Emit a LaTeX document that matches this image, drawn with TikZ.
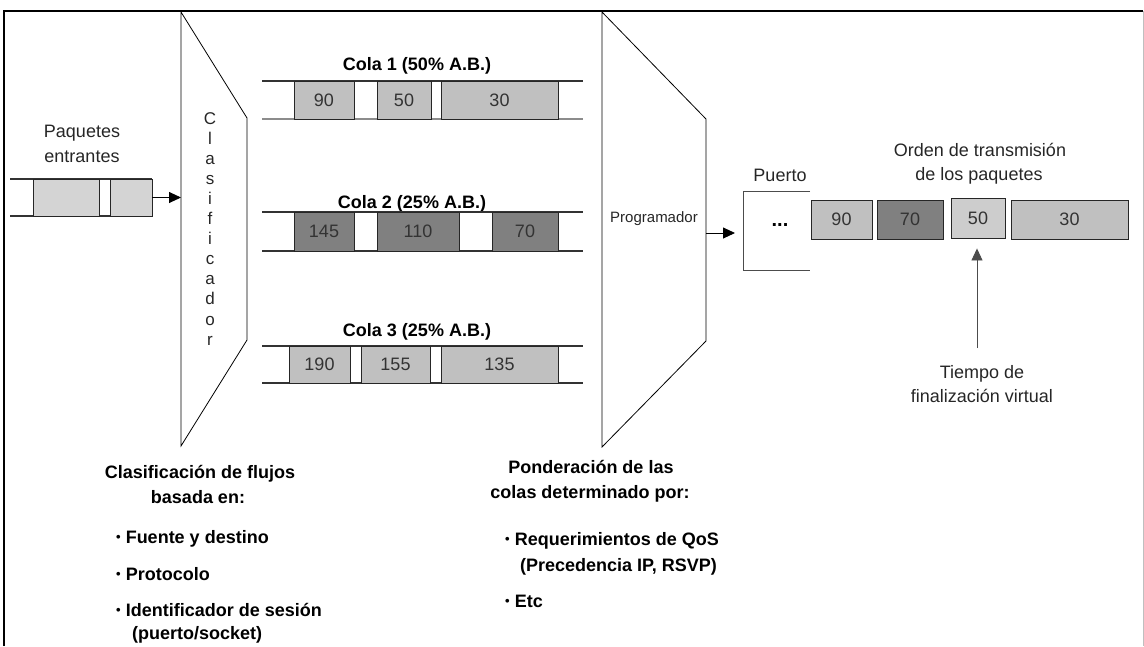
\documentclass[tikz,border=0pt]{standalone}
\usepackage{fontspec}
\setmainfont{Liberation Sans}
\usetikzlibrary{arrows.meta}
\definecolor{pktlight}{HTML}{C0C0C0}
\definecolor{pktdark}{HTML}{808080}
\definecolor{pktin}{HTML}{D4D4D4}
\newcommand{\itembullet}{\raisebox{1.5pt}{\fontsize{13}{13}\selectfont•}\ }
\begin{document}
\begin{tikzpicture}[x=1pt,y=-1pt,
  pkt/.style={draw=black!85, line width=0.9pt, inner sep=0pt,
    font=\fontsize{18}{20}\selectfont, text=black!80},
  light/.style={pkt, fill=pktlight},
  dark/.style={pkt, fill=pktdark},
  inpkt/.style={pkt, fill=pktin},
  lbl/.style={inner sep=0pt, anchor=base, font=\fontsize{18}{20}\selectfont, text=black!85},
  title/.style={lbl, font=\fontsize{18}{20}\selectfont\bfseries, text=black},
  item/.style={title, anchor=base west},
  arr/.style={-{Triangle[length=12pt,width=11pt]}, line width=0.9pt},
  rail/.style={line width=1.1pt, black!80},
  edge/.style={line width=0.8pt}
]
\useasboundingbox (0,0) rectangle (1144,646);

% outer frame
\draw[line width=1.6pt] (4,646) -- (4,11) -- (1143,11);
\draw[line width=0.6pt, black!25] (1143,11) -- (1143,646);

% classifier and scheduler
\draw[edge] (181,12) -- (247,118) -- (247,340) -- (181,446) -- cycle;
\draw[edge] (602,12) -- (706,119) -- (706,341) -- (602,447) -- cycle;
\coordinate (clsleft) at (181,200);
\coordinate (prgout) at (706,233);
\coordinate (portin) at (735,233);

\foreach \ch [count=\i from 0] in {C,l,a,s,i,f,i,c,a,d,o,r}
  \node[lbl, font=\fontsize{17}{20}\selectfont] (cls\i) at (210,{124+20.1*\i}) {\ch};
\node[lbl, font=\fontsize{15}{18}\selectfont] (prg) at (654,222) {Programador};

% incoming packets
\draw[rail] (10,179) -- (152,179);
\draw[rail] (10,216) -- (152,216);
\node[inpkt, minimum width=66pt, minimum height=37pt] (in1) at (66,197.5) {};
\node[inpkt, minimum width=42pt, minimum height=37pt] (in3) at (131,197.5) {};
\node[lbl] (pq1) at (82,137) {Paquetes};
\node[lbl] (pq2) at (82,162) {entrantes};
\draw[arr] (in3.east) -- (in3.east -| clsleft);

% queue 1
\node[title] (t1) at (417,70) {Cola 1 (50\% A.B.)};
\draw[rail] (262,81) -- (583,81);
\draw[rail, black!45] (262,119) -- (583,119);
\node[light, minimum width=60pt, minimum height=38pt] (q1a) at (324,100) {90};
\node[light, minimum width=54pt, minimum height=38pt] (q1b) at (404,100) {50};
\node[light, minimum width=117pt, minimum height=38pt] (q1c) at (499.5,100) {30};

% queue 2
\node[title] (t2) at (412,208) {Cola 2 (25\% A.B.)};
\draw[rail] (262,212) -- (583,212);
\draw[rail] (262,251) -- (583,251);
\node[dark, minimum width=60pt, minimum height=39pt] (q2a) at (324,231.5) {145};
\node[dark, minimum width=82pt, minimum height=39pt] (q2b) at (418,231.5) {110};
\node[dark, minimum width=66pt, minimum height=39pt] (q2c) at (525,231.5) {70};

% queue 3
\node[title] (t3) at (417,336) {Cola 3 (25\% A.B.)};
\draw[rail] (262,346) -- (583,346);
\draw[rail] (262,383) -- (583,383);
\node[light, minimum width=61pt, minimum height=37pt] (q3a) at (319.5,364.5) {190};
\node[light, minimum width=69pt, minimum height=37pt] (q3b) at (395.5,364.5) {155};
\node[light, minimum width=117pt, minimum height=37pt] (q3c) at (499.5,364.5) {135};

% output port
\draw[arr] (prgout) -- (portin);
\draw[line width=1pt, black!70] (810,191) -- (743,191) -- (743,270) -- (810,270);
\node[lbl] (pto) at (780,181) {Puerto};
\node[lbl, font=\fontsize{20}{20}\selectfont\bfseries, text=black] (dots) at (780,226) {...};

% transmission order
\node[lbl] (ord1) at (980,156) {Orden de transmisión};
\node[lbl] (ord2) at (979,180) {de los paquetes};
\node[light, minimum width=61pt, minimum height=39pt] (o90) at (841.5,219.5) {90};
\node[dark, minimum width=66pt, minimum height=39pt] (o70) at (910,219.5) {70};
\node[light, fill=pktlight!80, minimum width=54pt, minimum height=40pt] (o50) at (978,218) {50};
\node[light, minimum width=117pt, minimum height=39pt] (o30) at (1069.5,219.5) {30};

% virtual finish time
\node[lbl] (vt1) at (982,378) {Tiempo de};
\node[lbl] (vt2) at (982,402) {finalización virtual};
\coordinate (vtarrow) at (977,348);
\draw[arr, black!70, shorten >=10pt] (vtarrow) -- (vtarrow |- o50.south);

% classification notes
\node[title] (c1) at (200,478) {Clasificación de flujos};
\node[title] (c2) at (198,503) {basada en:};
\node[item] (c3) at (116,543) {\itembullet Fuente y destino};
\node[item] (c4) at (116,580) {\itembullet Protocolo};
\node[item] (c5) at (116,616) {\itembullet Identificador de sesión};
\node[item] (c6) at (132,639) {(puerto/socket)};

% weighting notes
\node[title] (p1) at (591,473) {Ponderación de las};
\node[title] (p2) at (590,498) {colas determinado por:};
\node[item] (p3) at (505,545) {\itembullet Requerimientos de QoS};
\node[item] (p4) at (520,571) {(Precedencia IP, RSVP)};
\node[item] (p5) at (505,607) {\itembullet Etc};
\end{tikzpicture}
\end{document}
